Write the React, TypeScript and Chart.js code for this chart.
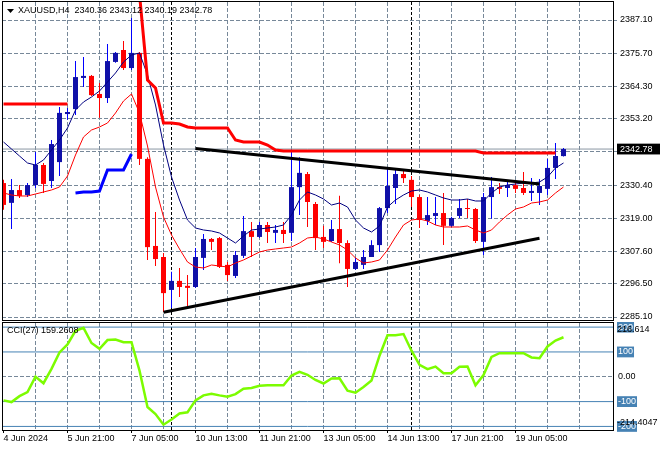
import React, { useEffect, useRef } from 'react';
import { Chart, registerables } from 'chart.js';

Chart.register(...registerables);

// ---------------- data ----------------
const SYMBOL = 'XAUUSD,H4';

const OPEN = [
  2331.1, 2324.3, 2328.7, 2327.0, 2330.4, 2337.3, 2331.8, 2338.3, 2354.8, 2356.5,
  2367.2, 2367.9, 2361.7, 2360.3, 2372.7, 2376.8, 2370.6, 2375.8, 2339.4, 2309.5,
  2305.7, 2294.4, 2297.5, 2295.8, 2295.4, 2305.4, 2311.9, 2312.2, 2303.0, 2299.2,
  2306.1, 2314.6, 2312.6, 2316.7, 2314.0, 2315.0, 2314.0, 2329.7, 2334.2, 2323.9,
  2312.6, 2311.2, 2315.3, 2310.5, 2301.6, 2303.0, 2305.7, 2309.8, 2322.5, 2329.4,
  2334.2, 2332.2, 2326.3, 2318.1, 2319.8, 2320.8, 2316.4, 2319.8, 2322.5, 2322.2,
  2310.9, 2326.3, 2329.7, 2329.4, 2330.4, 2329.4, 2327.7, 2327.7, 2329.1, 2336.3,
  2340.36,
];
const HIGH = [
  2332.2, 2332.5, 2330.4, 2331.1, 2341.8, 2338.0, 2345.9, 2357.2, 2356.9, 2373.0,
  2374.4, 2368.2, 2365.5, 2378.9, 2376.1, 2379.9, 2387.8, 2376.1, 2340.0, 2321.2,
  2307.1, 2300.6, 2301.9, 2299.5, 2308.8, 2313.6, 2312.2, 2312.6, 2304.0, 2307.8,
  2319.8, 2317.7, 2317.7, 2317.7, 2316.7, 2317.7, 2342.5, 2340.0, 2334.9, 2324.6,
  2316.4, 2318.4, 2326.7, 2311.5, 2305.4, 2308.1, 2311.5, 2322.9, 2336.6, 2335.9,
  2335.2, 2333.5, 2327.0, 2326.3, 2326.3, 2327.7, 2319.5, 2325.6, 2325.6, 2322.5,
  2327.7, 2333.2, 2331.1, 2331.5, 2331.5, 2334.9, 2332.8, 2332.5, 2339.4, 2344.9,
  2343.12,
];
const LOW = [
  2321.9, 2315.3, 2326.0, 2326.3, 2329.4, 2327.7, 2329.4, 2333.5, 2352.8, 2354.5,
  2364.1, 2361.0, 2353.5, 2358.6, 2372.4, 2369.9, 2369.9, 2337.3, 2304.7, 2302.6,
  2286.8, 2288.2, 2292.0, 2287.9, 2295.1, 2301.2, 2308.1, 2301.9, 2297.5, 2298.5,
  2305.4, 2305.7, 2312.2, 2310.5, 2310.5, 2310.5, 2311.2, 2320.1, 2316.0, 2308.1,
  2308.8, 2310.9, 2303.6, 2295.4, 2301.2, 2301.6, 2305.7, 2307.4, 2320.8, 2323.9,
  2331.1, 2322.9, 2315.7, 2316.7, 2316.7, 2309.8, 2316.0, 2319.1, 2319.1, 2310.5,
  2306.4, 2318.8, 2327.3, 2326.3, 2327.7, 2327.0, 2324.9, 2323.6, 2327.0, 2332.5,
  2340.19,
];
const CLOSE = [
  2323.6, 2328.7, 2326.7, 2330.4, 2337.3, 2330.8, 2344.5, 2355.2, 2355.5, 2367.5,
  2367.9, 2361.3, 2360.3, 2373.0, 2375.8, 2370.6, 2375.8, 2339.4, 2309.1, 2305.0,
  2293.3, 2297.5, 2295.4, 2295.1, 2305.7, 2311.9, 2310.9, 2302.3, 2299.5, 2306.4,
  2314.6, 2312.6, 2316.7, 2314.3, 2315.0, 2313.6, 2329.7, 2334.6, 2324.6, 2312.2,
  2310.9, 2315.3, 2310.5, 2301.6, 2304.0, 2305.7, 2309.8, 2322.5, 2330.1, 2334.2,
  2332.8, 2326.3, 2318.4, 2320.1, 2320.8, 2316.4, 2319.1, 2322.5, 2322.2, 2311.2,
  2326.3, 2329.7, 2329.1, 2330.4, 2329.1, 2327.7, 2328.4, 2330.1, 2336.3, 2340.4,
  2342.78,
];

// fast moving average (navy)
const MA_FAST = [
  2345.20, 2342.80, 2340.39, 2337.99, 2337.30, 2339.02, 2342.45, 2345.89, 2350.01, 2356.19,
  2358.94, 2360.66, 2362.72, 2365.81, 2368.90, 2372.68, 2375.08, 2375.77, 2368.21, 2357.91,
  2344.17, 2333.18, 2325.28, 2318.41, 2315.67, 2314.98, 2314.64, 2313.95, 2312.23, 2310.51,
  2312.92, 2314.98, 2315.32, 2315.67, 2316.01, 2316.70, 2320.13, 2325.28, 2328.03, 2327.00,
  2325.63, 2323.56, 2324.25, 2322.88, 2318.41, 2315.67, 2314.29, 2316.35, 2322.88, 2325.28,
  2327.00, 2328.37, 2328.72, 2328.03, 2327.00, 2325.97, 2325.28, 2325.28, 2325.63, 2324.94,
  2324.94, 2327.69, 2329.75, 2330.43, 2330.78, 2331.12, 2331.12, 2331.46, 2333.18, 2336.27,
  2337.99,
];
// slow moving average (thin red)
const MA_SLOW = [
  2327.69, 2327.00, 2326.66, 2326.66, 2327.34, 2328.03, 2328.72, 2329.75, 2333.52, 2340.74,
  2346.92, 2349.32, 2350.35, 2351.73, 2355.16, 2359.28, 2361.69, 2355.16, 2343.83, 2329.75,
  2319.44, 2313.26, 2308.46, 2303.99, 2302.27, 2301.93, 2302.96, 2302.62, 2302.27, 2303.65,
  2304.68, 2306.05, 2307.42, 2308.11, 2308.46, 2308.80, 2309.14, 2310.51, 2312.23, 2312.57,
  2311.89, 2310.86, 2309.83, 2308.11, 2305.36, 2303.65, 2303.99, 2304.68, 2308.11, 2312.57,
  2316.70, 2318.41, 2318.76, 2318.07, 2316.70, 2316.01, 2316.01, 2316.01, 2316.36, 2314.98,
  2313.95, 2314.98, 2317.73, 2320.13, 2322.19, 2322.88, 2324.25, 2324.60, 2325.28, 2327.69,
  2329.75,
];
// trailing stop (thick red, above price)
const STOP_DOWN = [
  2358.25, 2358.25, 2358.25, 2358.25, 2358.25, 2358.25, 2358.25, 2358.25, 2358.25, null,
  null, null, null, null, null, null, null, 2396.0, 2366.49, 2363.75,
  2351.73, 2351.73, 2351.38, 2350.35, 2350.01, 2350.01, 2350.01, 2350.01, 2350.01, 2345.89,
  2345.20, 2345.20, 2345.20, 2344.17, 2342.45, 2342.11, 2342.11, 2342.11, 2342.11, 2342.11,
  2342.11, 2342.11, 2342.11, 2342.11, 2342.11, 2342.11, 2342.11, 2342.11, 2342.11, 2342.11,
  2342.11, 2342.11, 2342.11, 2342.11, 2342.11, 2342.11, 2342.11, 2342.11, 2342.11, 2342.11,
  2341.42, 2341.42, 2341.42, 2341.42, 2341.42, 2341.42, 2341.42, 2341.42, 2341.42, 2341.42,
  null,
];
// trailing stop (thick blue, below price): first bar index and values
const STOP_UP_FROM = 9;
const STOP_UP = [2327.69, 2328.03, 2328.03, 2328.37, 2335.58, 2335.58, 2335.58, 2341.08];

// triangle trend lines: [bar index, price]
const TREND_UPPER = [[24, 2342.97], [67, 2330.78]];
const TREND_LOWER = [[20, 2286.71], [67, 2312.13]];

// weekly separators (bar index)
const SEPARATORS = [21, 51];

const PRICE_TICKS = [2387.10, 2375.70, 2364.30, 2353.20, 2341.80, 2330.40, 2319.00, 2307.60, 2296.50, 2285.10];

const CCI_PERIOD = 27;
const CCI = [
  -95, -102, -78, -62, 0, -26, 32, 98, 130, 185,
  197, 136, 113, 148, 150, 139, 139, 25, -122, -150,
  -193, -172, -148, -143, -95, -75, -68, -75, -80, -70,
  -48, -45, -36, -34, -34, -34, 5, 20, 8, -13,
  -27, -7, -6, -56, -64, -41, -15, 85, 167, 167,
  172, 105, 48, 31, 41, 14, 14, 40, 41, -34,
  7, 80, 95, 95, 95, 95, 78, 75, 122, 146,
  159.2608,
];
const CCI_LEVELS = [200, 100, -100, -200];
const CCI_TICKS = [200, 100, 0, -100, -200];
const CCI_MAX = 216.614;
const CCI_MIN = -214.4047;

const DATE_TICKS = [0, 8, 16, 24, 32, 40, 48, 56, 64];
const DATE_LABELS = [
  '4 Jun 2024', '5 Jun 21:00', '7 Jun 05:00', '10 Jun 13:00', '11 Jun 21:00',
  '13 Jun 05:00', '14 Jun 13:00', '17 Jun 21:00', '19 Jun 05:00',
];

// ---------------- view / style ----------------
const FONT_FAMILY = '"Liberation Sans", Arial, sans-serif';
const GRID = '#778899';
const BULL_BODY = '#1010a8';
const BULL_WICK = '#0000ff';
const BEAR = '#ff0000';
const CLEAR = 'rgba(0,0,0,0)';

const X_MIN = -0.1875;
const X_MAX = 76.1875;
const Y_MIN = 2284.07;
const Y_MAX = 2393.282;
const LAST_I = CLOSE.length - 1;
const LAST = CLOSE[LAST_I];

const gridTicks = (from: number) => {
  const t: { value: number }[] = [];
  for (let v = from; v <= 72; v += 4) t.push({ value: v });
  return t;
};

const series = (arr: (number | null)[]) => arr.map((v, i) => ({ x: i, y: v }));

const lineDs = (data: any, color: string, width: number, order: number, extra: any = {}) => ({
  type: 'line',
  data,
  borderColor: color,
  backgroundColor: color,
  borderWidth: width,
  pointRadius: 0,
  pointHoverRadius: 0,
  tension: 0,
  spanGaps: false,
  clip: 0,
  order,
  ...extra,
});

const zeroPad = (s: any) => {
  s.paddingTop = 0;
  s.paddingBottom = 0;
  s.paddingLeft = 0;
  s.paddingRight = 0;
};

const framePlugin = {
  id: 'frame',
  afterDraw(chart: any) {
    const { ctx, chartArea: a } = chart;
    ctx.save();
    ctx.strokeStyle = '#000';
    ctx.lineWidth = 1;
    ctx.strokeRect(a.left + 0.5, a.top - 0.5, a.right - a.left, a.bottom - a.top + 1);
    ctx.restore();
  },
};

const mainTextPlugin = {
  id: 'mainText',
  afterDraw(chart: any) {
    const { ctx } = chart;
    ctx.save();
    ctx.fillStyle = '#000';
    ctx.beginPath();
    ctx.moveTo(7, 9);
    ctx.lineTo(14, 9);
    ctx.lineTo(10.5, 13);
    ctx.closePath();
    ctx.fill();
    ctx.font = `9px ${FONT_FAMILY}`;
    ctx.textBaseline = 'middle';
    ctx.textAlign = 'left';
    const f = (v: number) => v.toFixed(2);
    ctx.fillText(
      `${SYMBOL}  ${f(OPEN[LAST_I])} ${f(HIGH[LAST_I])} ${f(LOW[LAST_I])} ${f(CLOSE[LAST_I])}`,
      18, 11);
    ctx.restore();
  },
};

const cciTextPlugin = {
  id: 'cciText',
  afterDraw(chart: any) {
    const { ctx, chartArea: a } = chart;
    const ys = chart.scales.y;
    ctx.save();
    ctx.font = `9px ${FONT_FAMILY}`;
    ctx.textBaseline = 'middle';
    ctx.textAlign = 'left';
    ctx.fillStyle = '#000';
    ctx.fillText(`CCI(${CCI_PERIOD}) ${CCI[LAST_I].toFixed(4)}`, 7, a.top + 8);
    ctx.fillText(String(CCI_MAX), a.right + 4, ys.getPixelForValue(CCI_MAX) + 7);
    ctx.fillText(String(CCI_MIN), a.right + 4, ys.getPixelForValue(CCI_MIN) - 7);
    ctx.restore();
  },
};

function mainConfig(): any {
  const wicks = {
    type: 'bar',
    data: LOW.map((l, i) => ({ x: i, y: [l, HIGH[i]] })),
    backgroundColor: OPEN.map((o, i) => (CLOSE[i] >= o ? BULL_WICK : BEAR)),
    borderWidth: 0,
    grouped: false,
    maxBarThickness: 1,
    minBarLength: 1,
    inflateAmount: 0,
    order: 8,
  };
  const bodies = {
    type: 'bar',
    data: OPEN.map((o, i) => ({ x: i, y: [o, CLOSE[i]] })),
    backgroundColor: OPEN.map((o, i) => (CLOSE[i] >= o ? BULL_BODY : BEAR)),
    borderWidth: 0,
    grouped: false,
    maxBarThickness: 5,
    minBarLength: 1,
    inflateAmount: 0,
    order: 7,
  };
  const stopUp = OPEN.map((_, i) => {
    const k = i - STOP_UP_FROM;
    return { x: i, y: k >= 0 && k < STOP_UP.length ? STOP_UP[k] : null };
  });
  const datasets: any[] = [
    ...SEPARATORS.map((s) =>
      lineDs([{ x: s, y: Y_MIN }, { x: s, y: Y_MAX }], '#000', 1, 12, { borderDash: [3, 2] })),
    lineDs([{ x: X_MIN, y: LAST }, { x: X_MAX, y: LAST }], '#8a96a3', 1, 11),
    wicks,
    bodies,
    lineDs(series(MA_SLOW), '#ff0000', 1, 6),
    lineDs(series(MA_FAST), '#000080', 1, 5),
    lineDs(series(STOP_DOWN), '#ff0000', 3, 4),
    lineDs(stopUp, '#0000ff', 3, 4),
    lineDs(TREND_UPPER.map(([x, y]) => ({ x, y })), '#000', 3, 3),
    lineDs(TREND_LOWER.map(([x, y]) => ({ x, y })), '#000', 3, 3),
  ];
  return {
    type: 'line',
    data: { datasets },
    plugins: [framePlugin, mainTextPlugin],
    options: {
      responsive: false,
      maintainAspectRatio: false,
      devicePixelRatio: 1,
      animation: false,
      events: [],
      layout: { padding: { left: 2, right: 0, top: 2, bottom: 2 } },
      plugins: { legend: { display: false }, tooltip: { enabled: false }, title: { display: false } },
      scales: {
        x: {
          type: 'linear',
          min: X_MIN,
          max: X_MAX,
          offset: false,
          bounds: 'data',
          afterBuildTicks: (s: any) => { s.ticks = gridTicks(4); },
          afterFit: (s: any) => { s.height = 0; zeroPad(s); },
          ticks: { display: false },
          grid: { color: GRID, drawTicks: false, offset: false, lineWidth: 1 },
          border: { display: false, dash: [4, 2] },
        },
        y: {
          type: 'linear',
          position: 'right',
          min: Y_MIN,
          max: Y_MAX,
          bounds: 'data',
          afterBuildTicks: (s: any) => {
            s.ticks = [...PRICE_TICKS, LAST].map((v) => ({ value: v }));
          },
          afterFit: (s: any) => { s.width = 47; zeroPad(s); },
          grid: {
            color: (c: any) => (c.tick && c.tick.value === LAST ? CLEAR : GRID),
            tickColor: (c: any) => (c.tick && c.tick.value === LAST ? CLEAR : GRID),
            tickLength: 4,
            drawTicks: true,
            lineWidth: 1,
          },
          border: { display: false, dash: [4, 2] },
          ticks: {
            autoSkip: false,
            padding: 3,
            font: { family: FONT_FAMILY, size: 9 },
            color: (c: any) => (c.tick && c.tick.value === LAST ? '#fff' : '#000'),
            showLabelBackdrop: (c: any) => !!(c.tick && c.tick.value === LAST),
            backdropColor: '#000',
            backdropPadding: { left: 3, right: 10, top: 0, bottom: 0 },
            callback: (v: number) =>
              v === LAST ? v.toFixed(2) : Math.abs(v - LAST) < 2 ? '' : v.toFixed(2),
          },
        },
      },
    },
  };
}

function cciConfig(): any {
  const datasets: any[] = [
    ...SEPARATORS.map((s) =>
      lineDs([{ x: s, y: CCI_MIN }, { x: s, y: CCI_MAX }], '#000', 1, 12, { borderDash: [3, 2] })),
    ...CCI_LEVELS.map((l) => lineDs([{ x: X_MIN, y: l }, { x: X_MAX, y: l }], '#4682b4', 1, 10)),
    lineDs(series(CCI), '#7cfc00', 2.5, 2),
  ];
  return {
    type: 'line',
    data: { datasets },
    plugins: [framePlugin, cciTextPlugin],
    options: {
      responsive: false,
      maintainAspectRatio: false,
      devicePixelRatio: 1,
      animation: false,
      events: [],
      layout: { padding: { left: 2, right: 0, top: 1, bottom: 0 } },
      plugins: { legend: { display: false }, tooltip: { enabled: false }, title: { display: false } },
      scales: {
        x: {
          type: 'linear',
          min: X_MIN,
          max: X_MAX,
          offset: false,
          bounds: 'data',
          afterBuildTicks: (s: any) => { s.ticks = gridTicks(0); },
          afterFit: (s: any) => { s.height = 20; zeroPad(s); },
          ticks: {
            display: true,
            autoSkip: false,
            maxRotation: 0,
            minRotation: 0,
            align: 'start',
            padding: 0,
            color: '#000',
            font: { family: FONT_FAMILY, size: 9 },
            callback: (v: number) => {
              const k = DATE_TICKS.indexOf(v);
              return k >= 0 ? DATE_LABELS[k] : '';
            },
          },
          grid: {
            color: (c: any) => (c.tick && c.tick.value === 0 ? CLEAR : GRID),
            tickColor: (c: any) => (c.tick && DATE_TICKS.indexOf(c.tick.value) >= 0 ? '#000' : CLEAR),
            drawTicks: true,
            tickLength: 3,
            offset: false,
            lineWidth: 1,
          },
          border: { display: false, dash: [4, 2] },
        },
        y: {
          type: 'linear',
          position: 'right',
          min: CCI_MIN,
          max: CCI_MAX,
          bounds: 'data',
          afterBuildTicks: (s: any) => { s.ticks = CCI_TICKS.map((v) => ({ value: v })); },
          afterFit: (s: any) => { s.width = 47; zeroPad(s); },
          grid: {
            color: (c: any) => (c.tick && c.tick.value === 0 ? GRID : CLEAR),
            tickColor: CLEAR,
            tickLength: 4,
            drawTicks: true,
            lineWidth: 1,
          },
          border: { display: false, dash: [4, 2] },
          ticks: {
            autoSkip: false,
            padding: 1,
            font: { family: FONT_FAMILY, size: 9 },
            color: (c: any) => (c.tick && c.tick.value === 0 ? '#000' : '#fff'),
            showLabelBackdrop: (c: any) => !!(c.tick && c.tick.value !== 0),
            backdropColor: '#4682b4',
            backdropPadding: { left: 1, right: 1, top: 0, bottom: 0 },
            callback: (v: number) => (v === 0 ? '0.00' : String(v)),
          },
        },
      },
    },
  };
}

export default function App() {
  const mainRef = useRef<HTMLCanvasElement>(null);
  const cciRef = useRef<HTMLCanvasElement>(null);

  useEffect(() => {
    document.body.style.margin = '0';
    const c1 = new Chart(mainRef.current as HTMLCanvasElement, mainConfig());
    const c2 = new Chart(cciRef.current as HTMLCanvasElement, cciConfig());
    return () => {
      c1.destroy();
      c2.destroy();
    };
  }, []);

  return (
    <div style={{ width: 660, height: 450, background: '#fff', overflow: 'hidden' }}>
      <canvas ref={mainRef} width={660} height={322} style={{ display: 'block' }} />
      <canvas ref={cciRef} width={660} height={128} style={{ display: 'block' }} />
    </div>
  );
}
